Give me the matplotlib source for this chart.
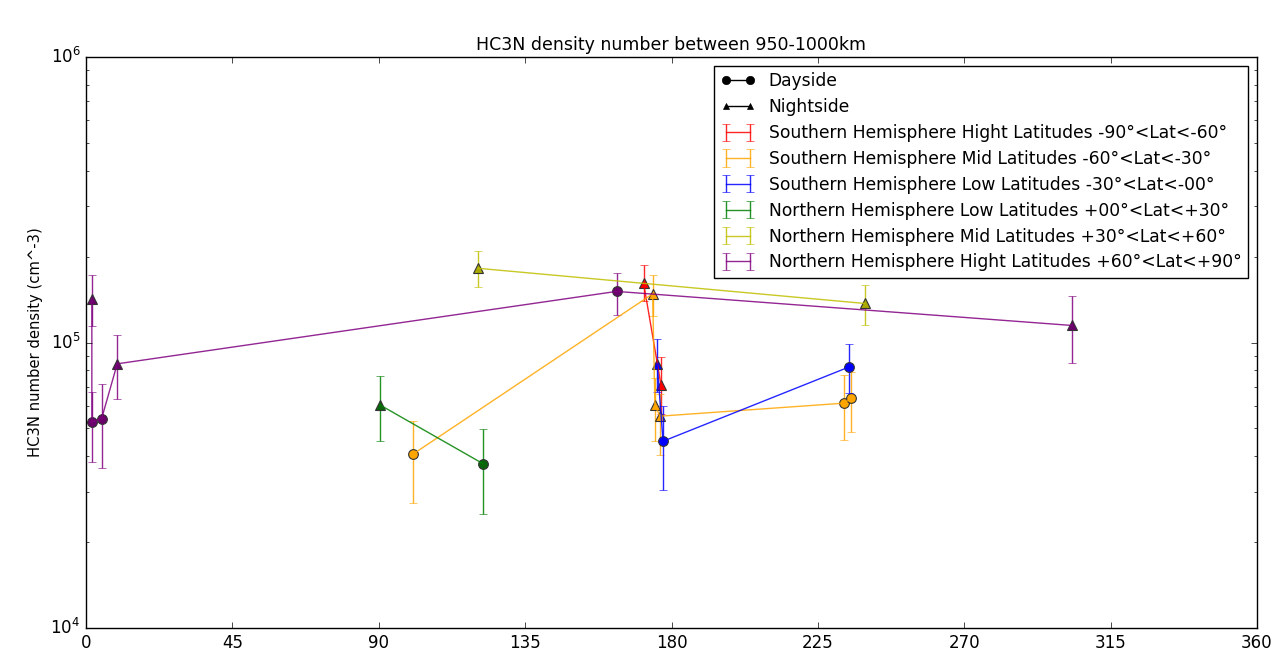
import matplotlib
matplotlib.use("Agg")
import matplotlib.pyplot as plt
import numpy as np
from matplotlib.lines import Line2D

plt.style.use("classic")
plt.rcParams["mathtext.fontset"] = "dejavusans"

# ---- data (longitude, density, error bounds, dayside flag) ----
names = [
    "Southern Hemisphere Hight Latitudes -90°<Lat<-60°",
    "Southern Hemisphere Mid Latitudes -60°<Lat<-30°",
    "Southern Hemisphere Low Latitudes -30°<Lat<-00°",
    "Northern Hemisphere Low Latitudes +00°<Lat<+30°",
    "Northern Hemisphere Mid Latitudes +30°<Lat<+60°",
    "Northern Hemisphere Hight Latitudes +60°<Lat<+90°",
]
line_colors = ["red", "orange", "blue", "green", "y", "purple"]
marker_colors = ["red", "orange", "blue", "#0a640a", "#a8a800", "#6a006a"]

s_high_lon = [171.4, 176.8]
s_high_den = [1.62e5, 7.07e4]
s_high_lo = [1.40e5, 5.64e4]
s_high_hi = [1.87e5, 8.89e4]
s_high_day = [False, False]

s_mid_lon = [100.6, 174.2, 174.9, 176.4, 232.9, 235.3]
s_mid_den = [4.07e4, 1.48e5, 6.05e4, 5.52e4, 6.13e4, 6.37e4]
s_mid_lo = [2.75e4, 1.24e5, 4.51e4, 4.02e4, 4.54e4, 4.84e4]
s_mid_hi = [5.33e4, 1.73e5, 7.5e4, 6.6e4, 7.71e4, 7.87e4]
s_mid_day = [True, False, False, False, True, True]

s_low_lon = [175.6, 177.4, 234.5]
s_low_den = [8.42e4, 4.51e4, 8.2e4]
s_low_lo = [6.7e4, 3.05e4, 6.64e4]
s_low_hi = [1.03e5, 6.0e4, 9.9e4]
s_low_day = [False, True, True]

n_low_lon = [90.3, 122.1]
n_low_den = [6.05e4, 3.76e4]
n_low_lo = [4.53e4, 2.51e4]
n_low_hi = [7.64e4, 4.97e4]
n_low_day = [False, True]

n_mid_lon = [120.4, 239.4]
n_mid_den = [1.82e5, 1.37e5]
n_mid_lo = [1.56e5, 1.15e5]
n_mid_hi = [2.09e5, 1.59e5]
n_mid_day = [False, False]

n_high_lon = [1.8, 1.8, 4.8, 9.6, 163.1, 303.2]
n_high_den = [1.42e5, 5.26e4, 5.41e4, 8.42e4, 1.51e5, 1.147e5]
n_high_lo = [1.14e5, 3.81e4, 3.64e4, 6.35e4, 1.25e5, 8.5e4]
n_high_hi = [1.72e5, 6.7e4, 7.17e4, 1.06e5, 1.75e5, 1.45e5]
n_high_day = [False, True, True, False, True, False]

groups = [
    (s_high_lon, s_high_den, s_high_lo, s_high_hi, s_high_day),
    (s_mid_lon, s_mid_den, s_mid_lo, s_mid_hi, s_mid_day),
    (s_low_lon, s_low_den, s_low_lo, s_low_hi, s_low_day),
    (n_low_lon, n_low_den, n_low_lo, n_low_hi, n_low_day),
    (n_mid_lon, n_mid_den, n_mid_lo, n_mid_hi, n_mid_day),
    (n_high_lon, n_high_den, n_high_lo, n_high_hi, n_high_day),
]

xticks = [0, 45, 90, 135, 180, 225, 270, 315, 360]

fig = plt.figure(figsize=(12.86, 6.57), dpi=100, facecolor="white")
ax = fig.add_axes([86 / 1286, 1 - 628 / 657, (1257 - 86) / 1286, (628 - 57) / 657])

err_handles = []
for (lon, den, lo, hi, day), name, lc, mc in zip(groups, names, line_colors, marker_colors):
    lon = np.array(lon); den = np.array(den)
    lo = np.array(lo); hi = np.array(hi); day = np.array(day)
    yerr = [den - lo, hi - den]
    h = ax.errorbar(lon, den, yerr=yerr, color=lc, ecolor=lc, capsize=3,
                    lw=1.0, alpha=0.85, label=name)
    err_handles.append(h)
    ax.plot(lon[day], den[day], "o", color=mc, mec="#333333", ms=7, mew=0.8, ls="none")
    ax.plot(lon[~day], den[~day], "^", color=mc, mec="#333333", ms=7, mew=0.8, ls="none")

ax.set_yscale("log")
ax.set_xlim(0, 360)
ax.set_ylim(1e4, 1e6)
ax.set_xticks(xticks)
ax.set_xticklabels([str(t) for t in xticks])
ax.set_title("HC3N density number between 950-1000km", fontsize=12.5)
ax.set_ylabel("HC3N number density (cm^-3)", fontsize=10.6)
ax.tick_params(labelsize=12)

day_h = Line2D([], [], color="black", marker="o", ms=6, ls="-", lw=1.0)
night_h = Line2D([], [], color="black", marker="^", ms=5, ls="-", lw=1.0)
ax.legend([day_h, night_h] + err_handles, ["Dayside", "Nightside"] + names,
          loc="upper right", fontsize=12.3, numpoints=2, handlelength=2.0,
          labelspacing=0.46, frameon=True)

fig.savefig("out.png", dpi=100, facecolor="white")
